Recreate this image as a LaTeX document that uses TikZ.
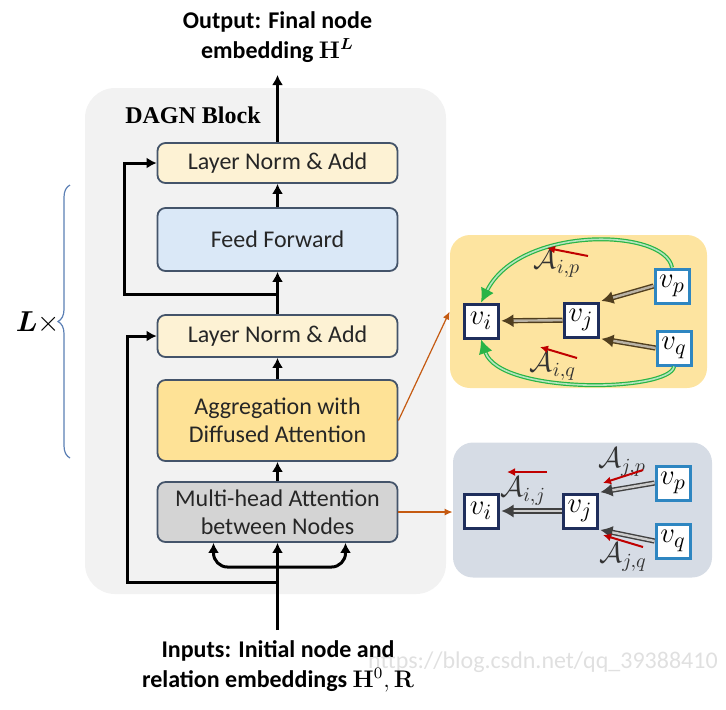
\documentclass[tikz,border=0pt]{standalone}
\usepackage[no-math]{fontspec}
\setmainfont{Carlito}
\newfontfamily\timesfont{Liberation Serif}
\usepackage{bm}
\usetikzlibrary{arrows.meta,decorations.pathreplacing}

\definecolor{blockgray}{RGB}{242,242,242}
\definecolor{boxline}{RGB}{68,84,106}
\definecolor{normfill}{RGB}{253,242,212}
\definecolor{fffill}{RGB}{218,232,247}
\definecolor{aggfill}{RGB}{254,226,150}
\definecolor{mhafill}{RGB}{212,212,212}
\definecolor{diffyellow}{RGB}{253,228,160}
\definecolor{attgray}{RGB}{214,220,229}
\definecolor{navybox}{RGB}{31,46,92}
\definecolor{lightbox}{RGB}{46,134,193}
\definecolor{linkorange}{RGB}{197,90,17}
\definecolor{attred}{RGB}{192,0,0}
\definecolor{bracecol}{RGB}{91,127,180}
\definecolor{arcgreen}{RGB}{40,180,70}
\definecolor{edgebrown}{RGB}{80,62,30}

\begin{document}
\begin{tikzpicture}[x=0.5pt,y=-0.5pt,
		font=\fontsize{12}{14}\selectfont,
		layer/.style={rectangle, rounded corners=4pt, draw=boxline, line width=0.9pt, minimum width=120pt, align=center, text=black!85},
		flow/.style={line width=1.5pt, -{Latex[length=5pt,width=5.5pt]}},
		link/.style={draw=linkorange, line width=0.6pt, -{Latex[length=4pt,width=3.5pt]}},
		panel/.style={rectangle, rounded corners=10pt, inner sep=0},
		vnode/.style={rectangle, draw=navybox, line width=1.5pt, fill=white, minimum size=17pt, inner sep=0, font=\fontsize{15}{15}\selectfont},
		vleaf/.style={vnode, draw=lightbox},
		weight/.style={font=\fontsize{14.5}{14.5}\selectfont, text=black!80},
		attn/.style={draw=attred, line width=1pt, -{Latex[length=4pt,width=4pt]}},
		diffmsg/.style={draw=edgebrown, double=edgebrown!40, double distance=1.2pt, line width=0.7pt, shorten >=1pt, -{Latex[length=6pt,width=6.5pt]}},
		attmsg/.style={draw=black!75, double=black!20, double distance=1.2pt, line width=0.7pt, shorten >=1pt, -{Latex[length=6pt,width=6.5pt]}},
		arc/.style={draw=arcgreen, double=arcgreen!35, double distance=0.8pt, line width=0.6pt, -{Latex[length=7pt,width=7pt]}}]
		
		\useasboundingbox (0,0) rectangle (726,709);
		
		%Watermark
		\node (mark) at (543,662) [text=black!12, font=\fontsize{12}{12}\selectfont] {https://blog.csdn.net/qq\_39388410};
		
		%Block
		\node (block) at (265.5,341) [rectangle, rounded corners=15pt, fill=blockgray, minimum width=180.5pt, minimum height=253pt, inner sep=0] {};
		\node (title) at (193,115) [font=\fontsize{12}{14}\selectfont\timesfont\bfseries] {DAGN Block};
		
		%Layers
		\node (mha) at (277.5,512) [layer, fill=mhafill, minimum height=30pt] {Multi-head Attention\\between Nodes};
		\node (agg) at (277.5,420.5) [layer, fill=aggfill, minimum height=40.5pt] {Aggregation with\\Diffused Attention};
		\node (normA) at (277.5,336) [layer, fill=normfill, minimum height=21pt] {Layer Norm \& Add};
		\node (ff) at (277.5,239.5) [layer, fill=fffill, minimum height=31.5pt] {Feed Forward};
		\node (normB) at (277.5,163) [layer, fill=normfill, minimum height=20pt] {Layer Norm \& Add};
		
		%Inputs and output
		\node (outtxt) at (277.5,37) [align=center, font=\fontsize{12}{15}\selectfont\bfseries] {Output: Final node\\embedding $\mathbf{H}^{\bm{L}}$};
		\node (intxt) at (278,666) [align=center, font=\fontsize{12}{15}\selectfont\bfseries] {Inputs: Initial node and\\relation embeddings $\mathbf{H}^{0}, \mathbf{R}$};
		\coordinate (outtip) at (277.5,75);
		\coordinate (intail) at (277.5,630);
		\coordinate (fork) at (277.5,567);
		\coordinate (resA) at (277.5,582);
		\coordinate (resAcorner) at (127,582);
		\coordinate (resB) at (277.5,294);
		\coordinate (resBcorner) at (124,294);
		
		%Flow
		\draw[flow] (intail) -- (mha.south);
		\draw[flow, rounded corners=7pt] (fork) -| ([xshift=-32pt]mha.south);
		\draw[flow, rounded corners=7pt] (fork) -| ([xshift=34pt]mha.south);
		\draw[flow] (resA) -- (resAcorner) |- (normA.west);
		\draw[flow] (mha.north) -- (agg.south);
		\draw[flow] (agg.north) -- (normA.south);
		\draw[flow] (normA.north) -- (ff.south);
		\draw[flow] (resB) -- (resBcorner) |- (normB.west);
		\draw[flow] (ff.north) -- (normB.south);
		\draw[flow] (normB.north) -- (outtip);
		
		%Repeat
		\draw[decorate, decoration={brace, amplitude=6pt}, draw=bracecol, line width=0.6pt] (70,458) -- (70,185);
		\node (rep) at (38,323) [font=\fontsize{14}{14}\selectfont] {$\bm{L}\times$};
		
		%Panels
		\node (diffpanel) at (578.5,311.5) [panel, fill=diffyellow, minimum width=128.5pt, minimum height=76.5pt] {};
		\node (attpanel) at (582.5,510) [panel, fill=attgray, minimum width=129.5pt, minimum height=67.5pt] {};
		\draw[link] (agg.east) -- (diffpanel.west);
		\draw[link] (mha.east) -- (mha.east -| attpanel.west);
		
		%Diffused attention graph
		\node (di) at (481,321) [vnode] {$v_i$};
		\node (dj) at (581,320) [vnode] {$v_j$};
		\node (dp) at (672,286) [vleaf] {$v_p$};
		\node (dq) at (674,348) [vleaf] {$v_q$};
		\draw[diffmsg] (dj) -- (di);
		\draw[diffmsg] (dp.west) -- (dj.north east);
		\draw[diffmsg] (dq.west) -- (dj.south east);
		\draw[arc] (dp.north) .. controls (665,228) and (520,225) .. (di.north);
		\draw[arc] (dq.south) .. controls (670,392) and (500,395) .. (di.south);
		\node (wip) at (557,263) [weight] {$\mathcal{A}_{i,p}$};
		\node (wiq) at (553,366) [weight] {$\mathcal{A}_{i,q}$};
		\draw[attn] (588,256) -- (547,248);
		\draw[attn] (577,358) -- (540,347);
		
		%Attention graph
		\node (ai) at (481,511) [vnode] {$v_i$};
		\node (aj) at (580,511) [vnode] {$v_j$};
		\node (ap) at (673,483) [vleaf] {$v_p$};
		\node (aq) at (673,541) [vleaf] {$v_q$};
		\draw[attmsg] (aj) -- (ai);
		\draw[attmsg] (ap.west) -- (aj.north east);
		\draw[attmsg] (aq.west) -- (aj.south east);
		\node (wij) at (523,491) [weight] {$\mathcal{A}_{i,j}$};
		\node (wjp) at (622,462) [weight] {$\mathcal{A}_{j,p}$};
		\node (wjq) at (623,557) [weight] {$\mathcal{A}_{j,q}$};
		\draw[attn] (547,472) -- (507,472);
		\draw[attn] (643,470) -- (603,483);
		\draw[attn] (643,547) -- (603,535);
		
	\end{tikzpicture}
\end{document}
